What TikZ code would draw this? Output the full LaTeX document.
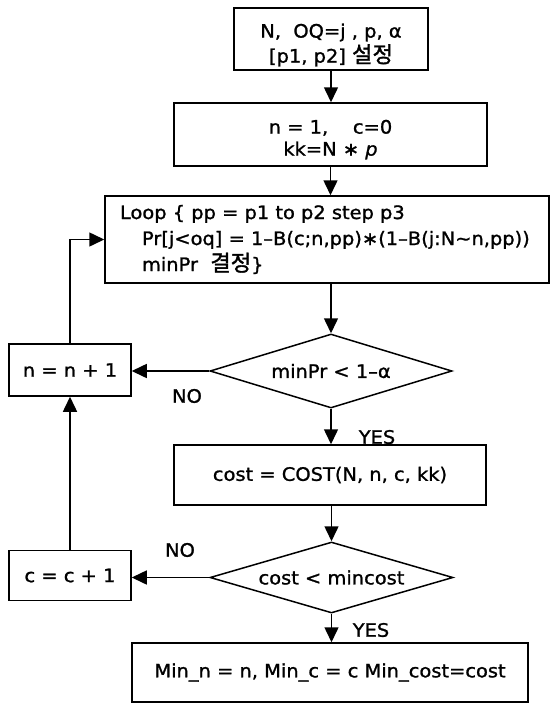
\documentclass[tikz,border=0pt]{standalone}
\usepackage{fontspec}
\setmainfont{DejaVu Sans}[FakeStretch=1.05,FakeBold=1.2]
\newfontfamily\kr{Noto Sans CJK KR}[Scale=1.2,FakeBold=1.5]
\usetikzlibrary{shapes.geometric,arrows.meta}
\begin{document}
\begin{tikzpicture}[x=1pt,y=-1pt,
  every node/.style={font=\fontsize{18.5}{22}\selectfont},
  ln/.style={line width=1.5pt},
  arr/.style={ln,-{Triangle[length=15pt,width=14pt]}},
  boxs/.style={draw,ln,rectangle,inner sep=0pt,align=center},
  dia/.style={draw,ln,diamond,inner sep=0pt,aspect=3.3},
  lbl/.style={inner sep=0pt}]
\useasboundingbox[fill=white] (0,0) rectangle (552,704);
\node[boxs,minimum width=194pt,minimum height=62pt] (b1) at (331,39)
  {\raisebox{-11pt}[0pt][0pt]{\begin{tabular}{@{}c@{}}N,\ \ OQ=j , p, α\\{}[p1, p2] {\kr 설정}\end{tabular}}};
\node[boxs,minimum width=313pt,minimum height=63pt] (b2) at (330.5,134.5)
  {\raisebox{-10pt}[0pt][0pt]{\begin{tabular}{@{}c@{}}n = 1,\ \ \ \ c=0\\ kk=N ∗ \textit{p}\end{tabular}}};
\node[draw,ln,rectangle,inner ysep=0pt,inner xsep=15pt,text width=414pt,
  minimum height=87pt,align=left,font=\fontsize{18.5}{26}\selectfont] (b3) at (327,239.5)
  {Loop \{ pp = p1 to p2 step p3\\\hspace*{22pt}Pr[j<oq] = 1–B(c;n,pp)∗(1–B(j:N∼n,pp))\\\hspace*{22pt}minPr\ \ {\kr 결정}\}};
\node[dia,minimum width=242pt,minimum height=74pt] (d1) at (331,371) {minPr < 1–α};
\node[boxs,minimum width=122pt,minimum height=52pt] (n1) at (70,370) {n = n + 1};
\node[boxs,minimum width=312pt,minimum height=60pt] (cost) at (330,475) {cost = COST(N, n, c, kk)};
\node[dia,minimum width=243pt,minimum height=71pt] (d2) at (331.5,577.5) {cost < mincost};
\node[boxs,minimum width=122pt,minimum height=50pt] (c1) at (70,575.5) {c = c + 1};
\node[boxs,minimum width=396pt,minimum height=59pt] (fin) at (330,672.5) {Min\_n = n, Min\_c = c Min\_cost=cost};
\node[lbl] (no1) at (187,396) {NO};
\node[lbl] (yes1) at (377,437) {YES};
\node[lbl] (no2) at (180,550) {NO};
\node[lbl] (yes2) at (371,630) {YES};
\draw[arr] (b1.south) -- (b1.south |- b2.north);
\draw[arr] (b2.south) -- (b2.south |- b3.north);
\draw[arr] (d1.north |- b3.south) -- (d1.north);
\draw[arr] (d1.south) -- (d1.south |- cost.north);
\draw[arr] (cost.south -| d2.north) -- (d2.north);
\draw[arr] (d2.south) -- (d2.south |- fin.north);
\draw[arr] (d1.west) -- (d1.west -| n1.east);
\draw[arr] (d2.west) -- (d2.west -| c1.east);
\draw[arr] (c1.north) -- (n1.south);
\draw[arr] (n1.north) |- (b3.west);
\end{tikzpicture}
\end{document}
